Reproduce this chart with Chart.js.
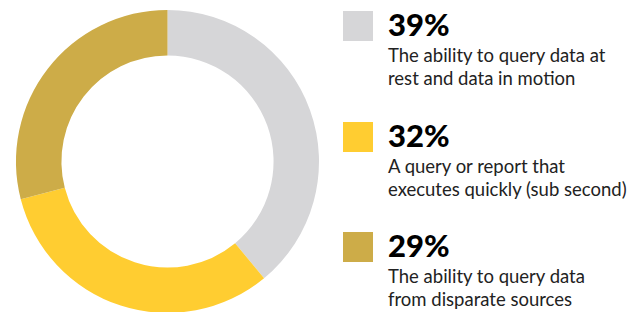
<!DOCTYPE html>
<html>
<head>
<meta charset="utf-8">
<script src="https://cdn.jsdelivr.net/npm/chart.js@4.4.1/dist/chart.umd.min.js"></script>
<style>
    html, body { margin: 0; padding: 0; background: #fff; }
    body { width: 642px; height: 312px; position: relative; overflow: hidden; font-family: Lato, sans-serif; }
    #chart-wrap { position: absolute; left: 0; top: 10px; width: 335px; height: 303px; }
    .item { position: absolute; left: 343px; }
    .swatch { position: absolute; left: 0; top: 0; width: 30px; height: 30px; }
    .pct { position: absolute; left: 45px; top: -4px; font-size: 31px; font-weight: 900; color: #000; line-height: 34px; white-space: nowrap; }
    .desc { position: absolute; left: 45px; top: 33px; font-size: 18.5px; color: #222; line-height: 23px; white-space: nowrap; }
</style>
</head>
<body>
<div id="chart-wrap"><canvas id="donut"></canvas></div>
<div id="legend"></div>
<script>
const labels = [
    ['The ability to query data at', 'rest and data in motion'],
    ['A query or report that', 'executes quickly (sub second)'],
    ['The ability to query data', 'from disparate sources']
];
const values = [39, 32, 29];
const colors = ['#d6d6d8', '#ffcd31', '#cdac48'];
const legendTops = [11, 122, 232];

document.addEventListener('DOMContentLoaded', () => {
    const ctx = document.getElementById('donut').getContext('2d');
    new Chart(ctx, {
        type: 'doughnut',
        data: {
            labels: labels.map(l => l.join(' ')),
            datasets: [{
                data: values,
                backgroundColor: colors,
                borderWidth: 0
            }]
        },
        options: {
            responsive: true,
            maintainAspectRatio: false,
            animation: false,
            cutout: '70%',
            layout: { padding: 0 },
            plugins: {
                legend: { display: false },
                tooltip: { enabled: false }
            }
        }
    });

    const legend = document.getElementById('legend');
    let html = '';
    values.forEach((v, i) => {
        html += `
            <div class="item" style="top:${legendTops[i]}px">
                <div class="swatch" style="background:${colors[i]}"></div>
                <div class="pct">${v}%</div>
                <div class="desc">${labels[i].join('<br>')}</div>
            </div>`;
    });
    legend.innerHTML = html;
});
</script>
</body>
</html>
